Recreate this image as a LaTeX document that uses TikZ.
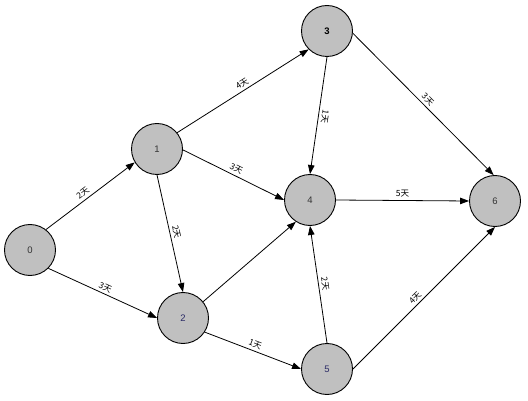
\documentclass[tikz,border=0pt]{standalone}
\usepackage{fontspec}
\setmainfont{Liberation Sans}
\newfontfamily\cjk{Noto Sans CJK SC}
\usetikzlibrary{arrows.meta}
\definecolor{nodegray}{HTML}{C0C0C0}
\definecolor{numgray}{HTML}{333333}
\definecolor{numnavy}{HTML}{2B2B66}
\begin{document}
\begin{tikzpicture}[x=1pt,y=-1pt,
  vert/.style={circle,draw=black,line width=0.9pt,fill=nodegray,minimum size=51pt,inner sep=0pt,font=\fontsize{9.5}{10}\selectfont,text=numgray},
  edge/.style={draw=black,line width=0.8pt,-{Triangle[length=9pt,width=6.5pt]}},
  lbl/.style={font=\cjk\fontsize{8.5}{9}\selectfont,sloped,above,inner sep=2.5pt}]
\useasboundingbox (0,0) rectangle (528,401);
\node[vert] (n0) at (30,250) {0};
\node[vert] (n1) at (157,149) {1};
\node[vert,text=numnavy] (n2) at (183,318) {2};
\node[vert,text=black,font=\fontsize{9.5}{10}\selectfont\bfseries] (n3) at (327,31) {3};
\node[vert] (n4) at (310,200) {4};
\node[vert,text=numnavy] (n5) at (327,369) {5};
\node[vert] (n6) at (495,201) {6};
\draw[edge] (n0.52) -- node[lbl,pos=0.46]{2天} (n1.211);
\draw[edge] (n0.-45) -- node[lbl]{3天} (n2.180);
\draw[edge] (n1.39) -- node[lbl,pos=0.52]{4天} (n3.225);
\draw[edge] (n1.-2) -- node[lbl]{3天} (n4.180);
\draw[edge] (n1.270) -- node[lbl]{2天} (n2.90);
\draw[edge] (n3.270) -- node[lbl,allow upside down]{1天} (n4.90);
\draw[edge] (n3.-5) -- node[lbl]{3天} (n6.93);
\draw[edge] (n4.0) -- node[lbl]{5天} (n6.180);
\draw[edge] (n2.39) -- (n4.237);
\draw[edge] (n2.-33) -- node[lbl]{1天} (n5.180);
\draw[edge] (n5.90) -- node[lbl]{2天} (n4.270);
\draw[edge] (n5.0) -- node[lbl,pos=0.47]{4天} (n6.270);
\end{tikzpicture}
\end{document}
